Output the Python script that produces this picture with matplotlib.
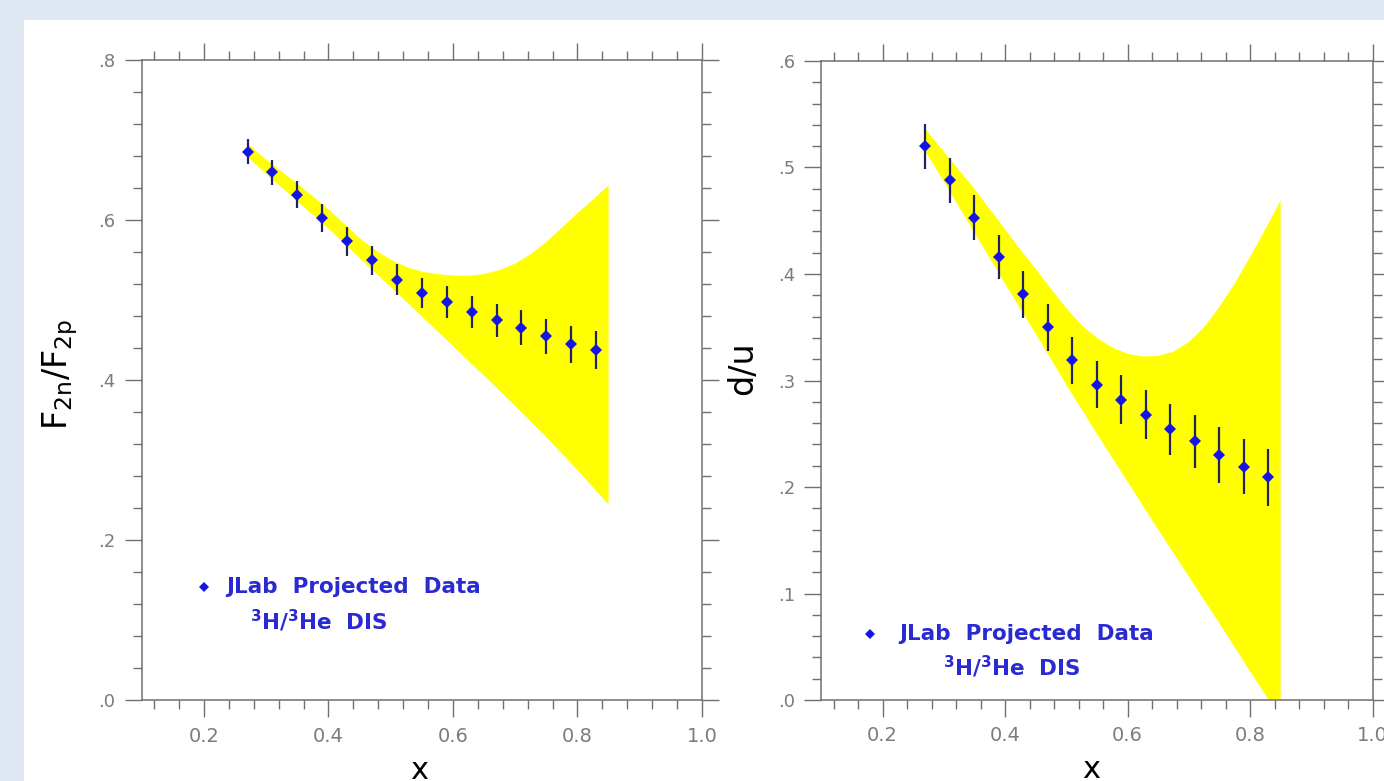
import matplotlib
matplotlib.use('Agg')
import matplotlib.pyplot as plt
from matplotlib.patches import Rectangle
from matplotlib.ticker import MultipleLocator, FuncFormatter
import numpy as np

# projected data points (same x grid for both panels)
x_data = [0.27, 0.31, 0.35, 0.39, 0.43, 0.47, 0.51, 0.55, 0.59, 0.63, 0.67, 0.71, 0.75, 0.79, 0.83]

f2_ratio = [0.686, 0.660, 0.632, 0.603, 0.574, 0.550, 0.526, 0.509, 0.498, 0.485, 0.475, 0.466, 0.455, 0.445, 0.438]
f2_err = [0.016, 0.016, 0.017, 0.017, 0.018, 0.018, 0.019, 0.019, 0.020, 0.020, 0.021, 0.022, 0.022, 0.023, 0.024]

du_ratio = [0.520, 0.488, 0.453, 0.416, 0.381, 0.350, 0.319, 0.296, 0.282, 0.268, 0.254, 0.243, 0.230, 0.219, 0.209]
du_err = [0.021, 0.021, 0.021, 0.021, 0.022, 0.022, 0.022, 0.022, 0.023, 0.023, 0.024, 0.025, 0.026, 0.026, 0.027]

# yellow uncertainty bands (upper / lower edges)
band_up_x = [0.27, 0.30, 0.35, 0.40, 0.425, 0.45, 0.475, 0.50, 0.525, 0.55, 0.575, 0.60, 0.625, 0.65,
             0.675, 0.70, 0.725, 0.75, 0.775, 0.80, 0.825, 0.85]
band_lo_x = [0.27, 0.30, 0.35, 0.40, 0.45, 0.50, 0.55, 0.60, 0.65, 0.70, 0.75, 0.80, 0.85]

f2_band_up = [0.696, 0.676, 0.646, 0.614, 0.596, 0.578, 0.563, 0.551, 0.542, 0.536, 0.533, 0.531, 0.531, 0.533,
              0.538, 0.546, 0.558, 0.573, 0.591, 0.609, 0.626, 0.644]
f2_band_lo = [0.680, 0.658, 0.624, 0.590, 0.553, 0.517, 0.480, 0.443, 0.406, 0.368, 0.329, 0.288, 0.245]

du_band_up = [0.536, 0.515, 0.480, 0.442, 0.423, 0.405, 0.386, 0.368, 0.352, 0.340, 0.331, 0.325, 0.3225, 0.323,
              0.327, 0.336, 0.350, 0.369, 0.391, 0.416, 0.442, 0.469]
du_band_lo = [0.515, 0.487, 0.439, 0.391, 0.344, 0.296, 0.250, 0.205, 0.160, 0.116, 0.072, 0.027, -0.017]

legend_line1 = 'JLab  Projected  Data'
legend_line2 = r'$^{\mathbf{3}}$H/$^{\mathbf{3}}$He  DIS'

AXIS_GREY = '#707070'
TICK_GREY = '#7c7c7c'
BAND_YELLOW = '#ffff00'
MARKER_BLUE = '#1414e6'
BAR_COLOR = '#22225e'
TEXT_BLUE = '#2a2ad2'


def style_axes(ax, ymax, ymajor, yminor):
    ax.set_xlim(0.1, 1.0)
    ax.set_ylim(0.0, ymax)
    ax.xaxis.set_major_locator(MultipleLocator(0.2))
    ax.xaxis.set_minor_locator(MultipleLocator(0.04))
    ax.yaxis.set_major_locator(MultipleLocator(ymajor))
    ax.yaxis.set_minor_locator(MultipleLocator(yminor))
    ax.xaxis.set_major_formatter(FuncFormatter(lambda v, p: '%.1f' % v))
    ax.yaxis.set_major_formatter(FuncFormatter(lambda v, p: ('%.1f' % v).lstrip('0')))
    for s in ax.spines.values():
        s.set_color(AXIS_GREY)
        s.set_linewidth(1.1)
    ax.tick_params(which='both', direction='out', top=True, right=True,
                   labeltop=False, labelright=False, color=AXIS_GREY, width=1.0)
    ax.tick_params(which='major', length=12)
    ax.tick_params(which='minor', length=6.5)
    ax.tick_params(axis='x', labelsize=14, labelcolor=TICK_GREY, pad=7)
    ax.tick_params(axis='y', labelsize=13, labelcolor=TICK_GREY, pad=7)


def draw_panel(ax, y, yerr, band_up, band_lo):
    poly_x = np.concatenate([band_up_x, band_lo_x[::-1]])
    poly_y = np.concatenate([band_up, band_lo[::-1]])
    ax.fill(poly_x, poly_y, color=BAND_YELLOW, lw=0, zorder=1)
    ax.errorbar(x_data, y, yerr=yerr, fmt='none', ecolor=BAR_COLOR, elinewidth=1.6, capsize=0, zorder=2)
    ax.plot(x_data, y, 'D', color=MARKER_BLUE, markersize=6.3, markeredgewidth=0, zorder=3)


fig = plt.figure(figsize=(13.84, 7.81), dpi=100)
fig.patch.set_facecolor('#dfe7f2')
fig.patches.append(Rectangle((24 / 1384, 0), 1, 1 - 20 / 781, transform=fig.transFigure,
                             facecolor='white', edgecolor='none', zorder=-10))

ax1 = fig.add_axes([0.1024, 0.1031, 0.4048, 0.8195])
ax2 = fig.add_axes([0.5934, 0.1037, 0.3983, 0.8182])
for ax in (ax1, ax2):
    ax.patch.set_alpha(0)

draw_panel(ax1, f2_ratio, f2_err, f2_band_up, f2_band_lo)
draw_panel(ax2, du_ratio, du_err, du_band_up, du_band_lo)

style_axes(ax1, 0.8, 0.2, 0.04)
style_axes(ax2, 0.6, 0.1, 0.02)

ax1.set_ylabel(r'F$_{\mathrm{2n}}$/F$_{\mathrm{2p}}$', fontsize=24, va='center')
ax1.yaxis.set_label_coords(-0.146, 0.51)
ax2.set_ylabel('d/u', fontsize=24, va='center')
ax2.yaxis.set_label_coords(-0.143, 0.52)

for ax, xc in [(ax1, 0.495), (ax2, 0.49)]:
    ax.set_xlabel('x', fontsize=22, va='center')
    ax.xaxis.set_label_coords(xc, -0.109)

# hand placed legends
ax1.plot([0.2], [0.142], 'D', color=MARKER_BLUE, markersize=4.8, markeredgewidth=0, zorder=3)
ax1.text(0.236, 0.142, legend_line1, color=TEXT_BLUE, fontsize=15.5, fontweight='bold', va='center')
ax1.text(0.274, 0.0994, legend_line2, color=TEXT_BLUE, fontsize=15.5, fontweight='bold', va='center')

ax2.plot([0.1796], [0.0619], 'D', color=MARKER_BLUE, markersize=4.8, markeredgewidth=0, zorder=3)
ax2.text(0.2265, 0.0619, legend_line1, color=TEXT_BLUE, fontsize=15.5, fontweight='bold', va='center')
ax2.text(0.2985, 0.031, legend_line2, color=TEXT_BLUE, fontsize=15.5, fontweight='bold', va='center')

plt.savefig('out.png', dpi=100, facecolor=fig.get_facecolor())
